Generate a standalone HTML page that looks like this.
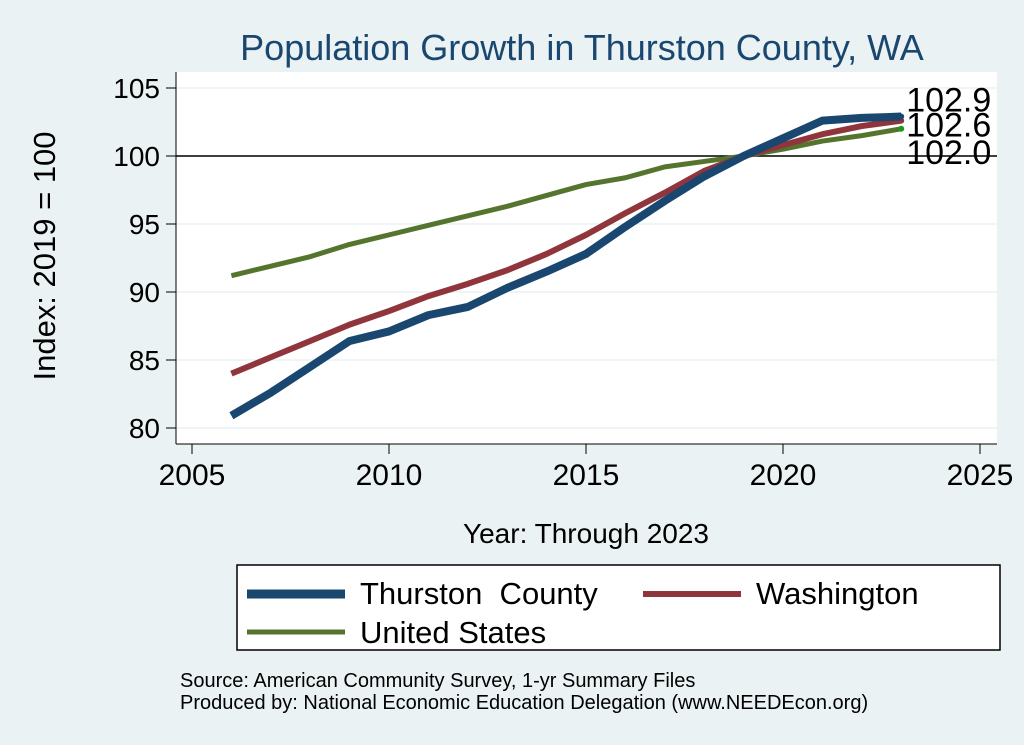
<!DOCTYPE html>
<html><head><meta charset="utf-8"><style>
body{margin:0;background:#eaf2f3;}
svg{display:block;font-family:"Liberation Sans",sans-serif;}
</style></head><body>
<svg id="chart" width="1024" height="745">
<defs><clipPath id="pc"><rect x="0" y="0" width="997" height="745"/></clipPath></defs>
<rect x="0" y="0" width="1024" height="745" fill="#eaf2f3"/>
<text x="582" y="60" font-size="36" fill="#1a476f" text-anchor="middle">Population Growth in Thurston County, WA</text>
<rect x="176" y="72" width="821" height="372" fill="#fff"/>
<g id="grid"></g><g id="axes"></g><g id="series"></g><g id="labels" clip-path="url(#pc)"></g>
<text transform="translate(55,256) rotate(-90)" font-size="31" text-anchor="middle">Index: 2019 = 100</text>
<text x="586" y="543" font-size="28" text-anchor="middle">Year: Through 2023</text>
<g>
<rect x="237" y="565" width="763" height="85" fill="#fff" stroke="#000" stroke-width="1.5"/>
<line x1="247" y1="594" x2="345" y2="594" stroke="#1a476f" stroke-width="9"/>
<text x="360" y="604" font-size="31" style="white-space:pre">Thurston  County</text>
<line x1="643" y1="594" x2="741" y2="594" stroke="#90353b" stroke-width="6"/>
<text x="756" y="604" font-size="31">Washington</text>
<line x1="247" y1="632" x2="345" y2="632" stroke="#55752f" stroke-width="5"/>
<text x="360" y="643" font-size="31">United States</text>
</g>
<text x="180" y="687" font-size="20">Source: American Community Survey, 1-yr Summary Files</text>
<text x="180" y="709" font-size="20">Produced by: National Economic Education Delegation (www.NEEDEcon.org)</text>
</svg>
<script>
const years=[2006,2007,2008,2009,2010,2011,2012,2013,2014,2015,2016,2017,2018,2019,2020,2021,2022,2023];
const thurston=[80.9,82.6,84.5,86.4,87.1,88.3,88.9,90.3,91.5,92.8,94.8,96.7,98.5,100,101.3,102.6,102.8,102.9];
const washington=[84.0,85.2,86.4,87.6,88.6,89.7,90.6,91.6,92.8,94.2,95.8,97.3,98.9,100,100.8,101.6,102.2,102.6];
const unitedStates=[91.2,91.9,92.6,93.5,94.2,94.9,95.6,96.3,97.1,97.9,98.4,99.2,99.6,100,100.5,101.1,101.5,102.0];
const xTicks=[2005,2010,2015,2020,2025];
const yTicks=[80,85,90,95,100,105];
const NS="http://www.w3.org/2000/svg";
const X=v=>192+(v-2005)*(980-192)/20;
const Y=v=>428-(v-80)*(428-88)/25;
function mk(t,a,p){const e=document.createElementNS(NS,t);for(const k in a)e.setAttribute(k,a[k]);p.appendChild(e);return e;}
const grid=document.getElementById('grid'),axes=document.getElementById('axes'),ser=document.getElementById('series'),lab=document.getElementById('labels');
mk('line',{x1:176,y1:72,x2:176,y2:444,stroke:'#000','stroke-width':1},axes);
mk('line',{x1:176,y1:444,x2:997,y2:444,stroke:'#000','stroke-width':1},axes);
yTicks.forEach(v=>{
 const g=mk('line',{x1:176,y1:Y(v),x2:997,y2:Y(v),stroke:'#eaf2f3','stroke-width':1.5},grid);
 
 
 mk('line',{x1:166,y1:Y(v),x2:176,y2:Y(v),stroke:'#000'},axes);
 const t=mk('text',{x:160,y:Y(v)+10,'font-size':28,'text-anchor':'end'},axes);t.textContent=v;
 
 
});
xTicks.forEach(v=>{
 mk('line',{x1:X(v),y1:444,x2:X(v),y2:454,stroke:'#000'},axes);
 const t=mk('text',{x:X(v),y:485,'font-size':30,'text-anchor':'middle'},axes);t.textContent=v;
 
 
});
const ref=mk('line',{x1:176,y1:Y(100),x2:997,y2:Y(100),stroke:'#000','stroke-width':1.5},grid);


function line(vals,color,w,name,dy){
 const p=mk('polyline',{points:years.map((y,i)=>X(y)+','+Y(vals[i])).join(' '),fill:'none',stroke:color,'stroke-width':w,'stroke-linejoin':'round'},ser);
 
 
 const n=vals.length-1;
 mk('circle',{cx:X(years[n]),cy:Y(vals[n]),r:3,fill:color==='#55752f'?'#1a9a1a':color},ser);
 const t=mk('text',{x:X(years[n])+5,y:Y(vals[n])+dy,'font-size':34},lab);t.textContent=vals[n].toFixed(1);
 
 
}
line(unitedStates,'#55752f',5,'us-line',35);
line(washington,'#90353b',6,'washington-line',16);
line(thurston,'#1a476f',8,'thurston-line',-5);
</script>
</body></html>
